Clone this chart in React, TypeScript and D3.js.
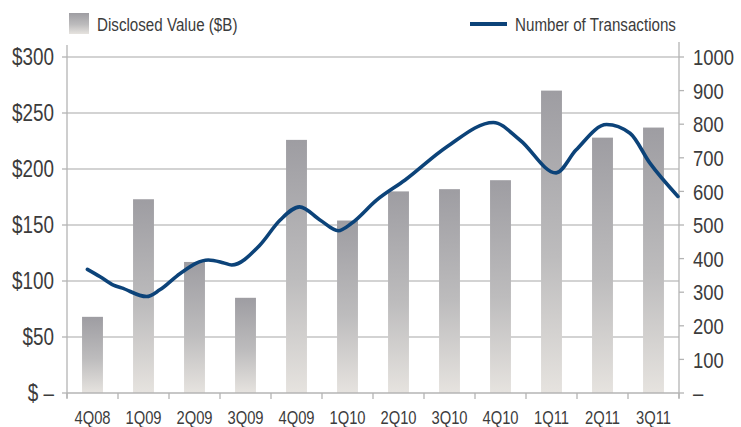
import React from "react";
import * as d3 from "d3";

const categories = ["4Q08", "1Q09", "2Q09", "3Q09", "4Q09", "1Q10", "2Q10", "3Q10", "4Q10", "1Q11", "2Q11", "3Q11"];
const disclosedValue = [68, 173, 117, 85, 226, 154, 180, 182, 190, 270, 228, 237];

// Number of transactions (pos = quarter index, fractional)
const transactionPos = [-0.1, 0.15, 0.41, 0.57, 1.06, 1.32, 1.72, 2.27, 2.56, 2.73, 3.28, 3.68, 4.06, 4.46, 4.82, 5.08, 5.57, 6.13, 6.95, 7.86, 8.38, 9.09, 9.48, 10.08, 10.54, 10.93, 11.48];
const transactionCount = [368, 346, 321, 313, 287, 307, 356, 396, 388, 381, 440, 515, 554, 515, 483, 505, 574, 634, 733, 805, 753, 655, 723, 799, 773, 684, 585];

const leftTicks = [0, 50, 100, 150, 200, 250, 300];
const leftTickLabels = ["$ \u2013", "$50", "$100", "$150", "$200", "$250", "$300"];
const rightTicks = [0, 100, 200, 300, 400, 500, 600, 700, 800, 900, 1000];
const rightTickLabels = ["\u2013", "100", "200", "300", "400", "500", "600", "700", "800", "900", "1000"];

const W = 741, H = 427;
const M = { left: 67, right: 679, top: 57, bottom: 393 };
const FONT = "'Liberation Sans', Arial, sans-serif";
const SX = 0.82;
const TEXT = "#3c3c3c";
const AXIS = "#b4b4b4";
const GRID = "#c4c4c4";
const LINE = "#0c4379";

function T({ x, y, size, anchor = "start", children }: { x: number; y: number; size: number; anchor?: string; children: React.ReactNode }) {
  return (
    <text transform={`translate(${x},${y}) scale(${SX},1)`} dy="0.36em" textAnchor={anchor} fontSize={size} fill={TEXT}>
      {children}
    </text>
  );
}

export default function App() {
  const x = d3.scaleBand<string>().domain(categories).range([M.left, M.right]).paddingInner(0.59).paddingOuter(0.295);
  const yL = d3.scaleLinear().domain([0, 300]).range([M.bottom, M.top]);
  const yR = d3.scaleLinear().domain([0, 1000]).range([M.bottom, M.top]);
  const step = x.step();
  const c0 = (x(categories[0]) as number) + x.bandwidth() / 2;
  const xPos = d3.scaleLinear().domain([0, categories.length - 1]).range([c0, c0 + step * (categories.length - 1)]);

  const pts = transactionPos.map((p, i) => [p, transactionCount[i]] as [number, number]);
  const linePath = d3.line<[number, number]>()
    .x((d) => xPos(d[0]))
    .y((d) => yR(d[1]))
    .curve(d3.curveMonotoneX)(pts) as string;

  const boundaries = d3.range(categories.length + 1).map((i) => M.left + i * step);

  return (
    <svg width={W} height={H} style={{ position: "absolute", left: 0, top: 0, background: "#fff" }} fontFamily={FONT}>
      <defs>
        <linearGradient id="barGrad" x1="0" y1="0" x2="0" y2="1">
          <stop offset="0%" stopColor="#9e9da2" />
          <stop offset="55%" stopColor="#bdbcbd" />
          <stop offset="100%" stopColor="#e6e3df" />
        </linearGradient>
      </defs>

      {leftTicks.slice(1).map((t) => (
        <line key={t} x1={M.left} x2={M.right} y1={yL(t)} y2={yL(t)} stroke={GRID} strokeWidth={1.3} />
      ))}

      {categories.map((c, i) => (
        <rect key={c} x={x(c)} width={x.bandwidth()} y={yL(disclosedValue[i])} height={M.bottom - yL(disclosedValue[i])} fill="url(#barGrad)" />
      ))}

      <line x1={M.left} x2={M.left} y1={45} y2={398} stroke={AXIS} strokeWidth={1.3} />
      <line x1={M.right} x2={M.right} y1={42} y2={398} stroke={AXIS} strokeWidth={1.3} />
      <line x1={M.left} x2={M.right} y1={M.bottom} y2={M.bottom} stroke={AXIS} strokeWidth={1.3} />
      {boundaries.map((b, i) => (
        <line key={i} x1={b} x2={b} y1={M.bottom} y2={M.bottom + 6} stroke={AXIS} strokeWidth={1.3} />
      ))}
      {leftTicks.map((t) => (
        <line key={t} x1={M.left - 5} x2={M.left} y1={yL(t)} y2={yL(t)} stroke={AXIS} strokeWidth={1.3} />
      ))}
      {rightTicks.map((t) => (
        <line key={t} x1={M.right} x2={M.right + 5} y1={yR(t)} y2={yR(t)} stroke={AXIS} strokeWidth={1.3} />
      ))}

      <path d={linePath} fill="none" stroke={LINE} strokeWidth={3.6} strokeLinejoin="round" strokeLinecap="round" />

      {leftTicks.map((t, i) => (
        <T key={t} x={54} y={yL(t)} size={23} anchor="end">{leftTickLabels[i]}</T>
      ))}
      {rightTicks.map((t, i) => (
        <T key={t} x={693} y={yR(t)} size={22.5}>{rightTickLabels[i]}</T>
      ))}
      {categories.map((c) => (
        <T key={c} x={(x(c) as number) + x.bandwidth() / 2} y={418} size={18} anchor="middle">{c}</T>
      ))}

      <rect x={69} y={13} width={20} height={21} fill="url(#barGrad)" />
      <T x={97} y={24} size={18.5}>Disclosed Value ($B)</T>
      <line x1={470} x2={507} y1={24} y2={24} stroke={LINE} strokeWidth={4} />
      <T x={515} y={24} size={18.5}>Number of Transactions</T>
    </svg>
  );
}
